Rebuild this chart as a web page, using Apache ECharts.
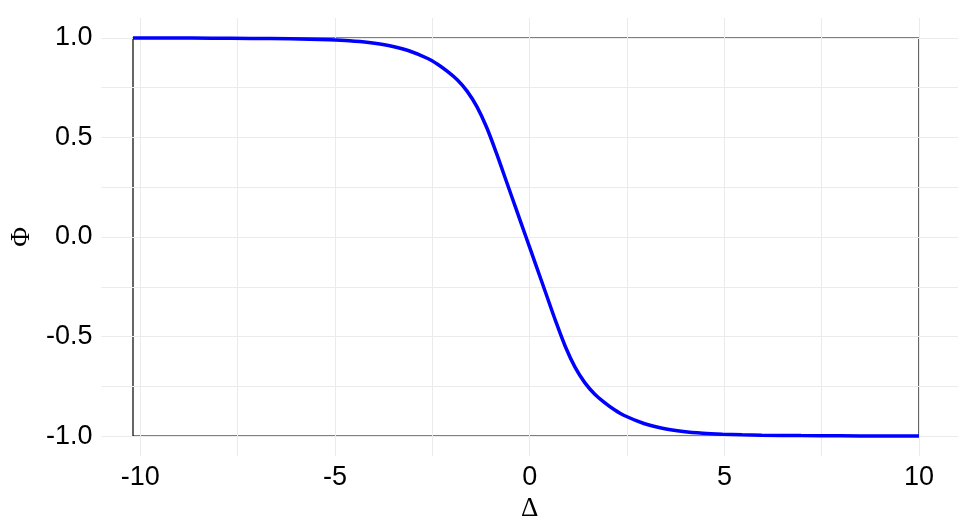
<!DOCTYPE html>
<html>
<head>
<meta charset="utf-8">
<script src="https://cdn.jsdelivr.net/npm/echarts@6/dist/echarts.min.js"></script>
<style>
  html, body { margin: 0; padding: 0; background: #fff; }
  #chart { width: 966px; height: 530px; }
</style>
</head>
<body>
<div id="chart"></div>
<script>
// values
let deltaValues = [-10, -9, -8, -7, -6, -5.5, -5, -4.5, -4, -3.5, -3, -2.5, -2.25,
  -2, -1.75, -1.5, -1.25, -1, -0.75, -0.5, -0.25, 0, 0.25, 0.5, 0.75, 1, 1.25, 1.5, 1.75, 2,
  2.25, 2.5, 3, 3.5, 4, 4.5, 5, 5.5, 6, 7, 8, 9, 10];
let phiValues = [1.0, 1.0, 0.999, 0.998, 0.996, 0.994, 0.991, 0.986, 0.977, 0.962, 0.937, 0.897, 0.868,
  0.832, 0.79, 0.733, 0.655, 0.55, 0.42, 0.28, 0.14, 0.0, -0.14, -0.28, -0.42, -0.55, -0.655, -0.733, -0.79, -0.832,
  -0.868, -0.897, -0.937, -0.962, -0.977, -0.986, -0.991, -0.994, -0.996, -0.998, -0.999, -1.0, -1.0];

let xTickLabels = [-10, -5, 0, 5, 10];
let yTickLabels = [-1, -0.5, 0, 0.5, 1];
let xGridValues = [-10, -7.5, -5, -2.5, 0, 2.5, 5, 7.5, 10];
let yGridValues = [-1, -0.75, -0.5, -0.25, 0, 0.25, 0.5, 0.75, 1];

let points = [];
deltaValues.map(function (d, i) {
  points.push([d, phiValues[i]]);
});

let chart = echarts.init(document.getElementById("chart"));
let options = {
  animation: false,
  grid: [
    {
      // expanded area, carries the grid lines and labels
      left: 94,
      right: 8,
      top: 18,
      bottom: 74,
    },
    {
      // data panel with black border
      left: 133,
      top: 38,
      width: 786,
      height: 398,
      show: true,
      borderColor: "#000",
      borderWidth: 1.2,
      backgroundColor: "transparent",
    },
  ],
  xAxis: [
    {
      type: "value",
      gridIndex: 0,
      min: -11,
      max: 11,
      name: "Δ",
      nameLocation: "middle",
      nameGap: 39,
      nameTextStyle: {
        fontFamily: "Liberation Serif",
        fontSize: 27,
        color: "#000",
      },
      axisLine: { show: false },
      axisTick: { show: false, customValues: xGridValues },
      axisLabel: {
        customValues: xTickLabels,
        fontFamily: "Liberation Sans",
        fontSize: 27,
        color: "#000",
        margin: 8,
      },
      splitLine: {
        show: true,
        lineStyle: { color: "#ebebeb", width: 1 },
      },
    },
    {
      type: "value",
      gridIndex: 1,
      min: -10,
      max: 10,
      show: false,
    },
  ],
  yAxis: [
    {
      type: "value",
      gridIndex: 0,
      min: -1.1,
      max: 1.1,
      name: "Φ",
      nameLocation: "middle",
      nameGap: 62,
      nameRotate: 90,
      nameTextStyle: {
        fontFamily: "Liberation Serif",
        fontSize: 27,
        color: "#000",
      },
      axisLine: { show: false },
      axisTick: { show: false, customValues: yGridValues },
      axisLabel: {
        customValues: yTickLabels,
        fontFamily: "Liberation Sans",
        fontSize: 27,
        color: "#000",
        margin: 9,
        formatter: function (v) {
          return v.toFixed(1);
        },
      },
      splitLine: {
        show: true,
        lineStyle: { color: "#ebebeb", width: 1 },
      },
    },
    {
      type: "value",
      gridIndex: 1,
      min: -1,
      max: 1,
      show: false,
    },
  ],
  series: [
    {
      type: "line",
      xAxisIndex: 1,
      yAxisIndex: 1,
      data: points,
      smooth: 0.3,
      showSymbol: false,
      clip: false,
      lineStyle: { color: "#0000ff", width: 3.5 },
      z: 5,
    },
  ],
};
chart.setOption(options);
</script>
</body>
</html>
